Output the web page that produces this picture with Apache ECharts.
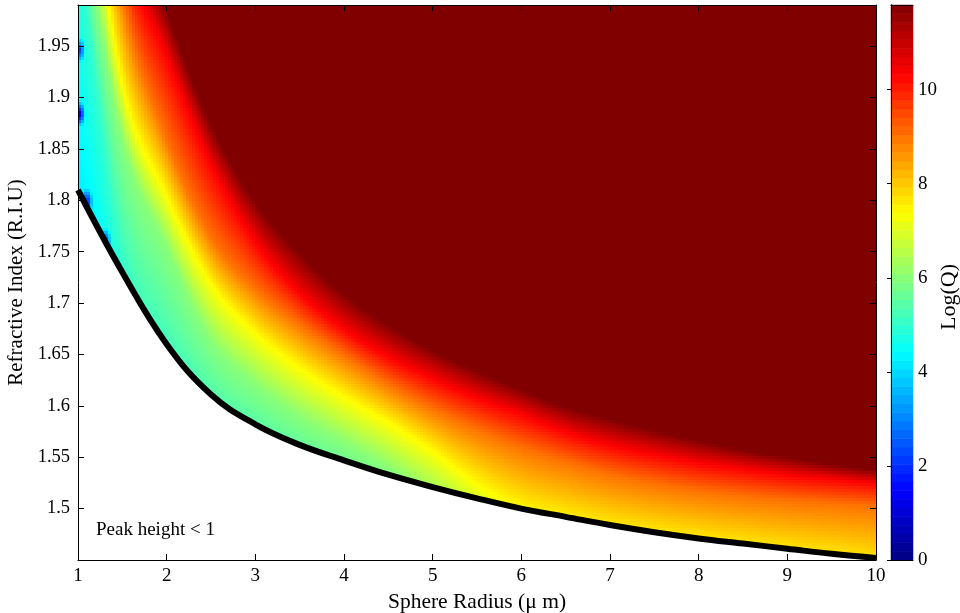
<!DOCTYPE html>
<html>
<head>
<meta charset="utf-8">
<script src="https://cdn.jsdelivr.net/npm/echarts@6/dist/echarts.min.js"></script>
<style>
  html, body { margin: 0; padding: 0; background: #fff; }
  #chart { width: 960px; height: 613px; }
</style>
</head>
<body>
<div id="chart"></div>
<script>
const radius = [1, 1.5, 2, 2.5, 3, 3.5, 4, 4.5, 5, 5.5, 6, 6.5, 7, 7.5, 8, 8.5, 9, 9.5, 10];
// black cut-off line (peak height < 1 below it)
const cutoffIndex = [1.810, 1.730, 1.660, 1.611, 1.582, 1.562, 1.547, 1.533, 1.521, 1.510, 1.500, 1.492, 1.484, 1.477, 1.471, 1.466, 1.461, 1.456, 1.452];
// refractive index where Log(Q) reaches each contour level, per radius column
// (levels that lie under the cut-off line only set the value along the line)
const levelValues = [4, 5, 6, 7.4, 9, 10.3, 11.8];
const level4 = [1.74, 1.60, 1.50, 1.45, 1.42, 1.40, 1.38, 1.36, 1.34, 1.32, 1.30, 1.28, 1.27, 1.26, 1.25, 1.24, 1.23, 1.22, 1.21];
const level5 = [2.05, 1.74, 1.64, 1.585, 1.553, 1.528, 1.505, 1.48, 1.46, 1.44, 1.42, 1.40, 1.39, 1.38, 1.37, 1.36, 1.35, 1.34, 1.33];
const level6 = [2.10, 1.86, 1.755, 1.665, 1.622, 1.59, 1.565, 1.54, 1.51, 1.48, 1.455, 1.435, 1.42, 1.41, 1.40, 1.39, 1.38, 1.37, 1.36];
const level74 = [2.20, 1.915, 1.805, 1.72, 1.672, 1.638, 1.61, 1.585, 1.557, 1.525, 1.500, 1.488, 1.478, 1.471, 1.465, 1.459, 1.453, 1.447, 1.441];
const level9 = [2.30, 2.00, 1.86, 1.765, 1.715, 1.68, 1.65, 1.622, 1.598, 1.578, 1.56, 1.546, 1.534, 1.525, 1.518, 1.513, 1.509, 1.506, 1.503];
const level103 = [2.38, 2.06, 1.94, 1.835, 1.76, 1.71, 1.675, 1.648, 1.627, 1.608, 1.592, 1.575, 1.562, 1.553, 1.545, 1.539, 1.533, 1.529, 1.525];
const level118 = [2.45, 2.11, 1.985, 1.875, 1.80, 1.75, 1.71, 1.68, 1.655, 1.635, 1.617, 1.60, 1.588, 1.577, 1.567, 1.558, 1.551, 1.544, 1.538];
// low-Q blue spots along the left edge: [radius, index, logQ]
const blueSpots = [[1.02, 1.947, 2.0], [1.02, 1.885, 1.0], [1.1, 1.80, 1.5], [1.31, 1.762, 2.0]];

const xTicks = [1, 2, 3, 4, 5, 6, 7, 8, 9, 10];
const yTicks = [1.5, 1.55, 1.6, 1.65, 1.7, 1.75, 1.8, 1.85, 1.9, 1.95];
const cbTicks = [0, 2, 4, 6, 8, 10];

const xMin = 1, xMax = 10, yMin = 1.45, yMax = 1.99, qMax = 11.8;
const levels = [level4, level5, level6, level74, level9, level103, level118];
const jet = ["#000080", "#0000ff", "#0080ff", "#00ffff", "#80ff80", "#ffff00", "#ff8000", "#ff0000", "#800000"];
const FONT = "Liberation Serif, DejaVu Serif, serif";

/** smooth (catmull-rom) value of a per-column array between the read columns */
function colValue(arr, k, t) {
    const p1 = arr[k], p2 = arr[k + 1];
    const p0 = k > 0 ? arr[k - 1] : 2 * p1 - p2;
    const p3 = k + 2 < arr.length ? arr[k + 2] : 2 * p2 - p1;
    return 0.5 * (2 * p1 + (-p0 + p2) * t + (2 * p0 - 5 * p1 + 4 * p2 - p3) * t * t
        + (-p0 + 3 * p1 - 3 * p2 + p3) * t * t * t);
}

/** Log(Q) at (x, n) from the contour levels */
function logQ(x, n) {
    let k = 0;
    while (k < radius.length - 2 && x > radius[k + 1]) k++;
    const t = (x - radius[k]) / (radius[k + 1] - radius[k]);
    if (n < colValue(cutoffIndex, k, t)) return null;
    let prev = -Infinity;
    const pos = levels.map((arr) => (prev = Math.max(prev + 1e-4, colValue(arr, k, t))));
    let v;
    if (n <= pos[0]) v = levelValues[0];
    else if (n >= pos[pos.length - 1]) v = qMax;
    else {
        for (let i = 0; i < pos.length - 1; i++) {
            if (n <= pos[i + 1]) {
                const f = (n - pos[i]) / (pos[i + 1] - pos[i]);
                v = levelValues[i] + (levelValues[i + 1] - levelValues[i]) * f;
                break;
            }
        }
    }
    blueSpots.forEach(([sx, sn, sv]) => {
        const d = Math.sqrt(Math.pow((x - sx) / 0.07, 2) + Math.pow((n - sn) / 0.013, 2));
        if (d < 1) v = Math.min(v, sv + (v - sv) * d);
    });
    return Math.min(v, qMax);
}

// field cells, 3 px each
const nx = 266, ny = 185;
const dx = (xMax - xMin) / nx, dy = (yMax - yMin) / ny;
const cells = [];
for (let i = 0; i < nx; i++) {
    const x = xMin + (i + 0.5) * dx;
    for (let j = 0; j < ny; j++) {
        const n = yMin + (j + 0.5) * dy;
        const v = logQ(x, n);
        if (v !== null) cells.push([x, n, v]);
    }
}

// colour bar, 64 steps as in the matlab colormap
const cbCats = [], cbCells = [];
for (let k = 0; k < 64; k++) {
    cbCats.push(k);
    cbCells.push([0, k, (k + 0.5) * qMax / 64]);
}

const cutoffLine = radius.map((r, i) => [r, cutoffIndex[i]]);

function onTick(list, v) {
    return list.some((t) => Math.abs(t - v) < 1e-6);
}

function renderCell(params, api) {
    const x = api.value(0), n = api.value(1);
    const a = api.coord([x - dx / 2, n + dy / 2]);
    const b = api.coord([x + dx / 2, n - dy / 2]);
    const x0 = Math.floor(a[0] + 0.01), y0 = Math.floor(a[1] + 0.01);
    return {
        type: "rect",
        shape: { x: x0, y: y0, width: Math.ceil(b[0] - 0.01) - x0 + 1, height: Math.ceil(b[1] - 0.01) - y0 + 1 },
        style: { fill: api.visual("color") },
    };
}

const hiddenCat = {
    type: "category", show: false, boundaryGap: true,
};
const boxAxis = {
    z: 10,
    axisLine: { show: true, lineStyle: { color: "#000", width: 1 } },
    axisTick: { show: true, inside: true, length: 6, lineStyle: { color: "#000" } },
    splitLine: { show: false },
};

const chart = echarts.init(document.getElementById("chart"), null, { renderer: "canvas" });
chart.setOption({
    animation: false,
    backgroundColor: "#fff",
    grid: [
        { left: 78, top: 5, width: 798, height: 555, outerBoundsMode: "none", containLabel: false },
        { left: 891, top: 5, width: 22, height: 555, outerBoundsMode: "none", containLabel: false },
    ],
    visualMap: {
        type: "continuous",
        show: false,
        min: 0,
        max: qMax,
        dimension: 2,
        seriesIndex: [0, 2],
        inRange: { color: jet },
    },
    xAxis: [
        Object.assign({}, boxAxis, {
            gridIndex: 0, type: "value", position: "bottom", min: xMin, max: xMax, interval: 1,
            name: "Sphere Radius (\u03bc m)", nameLocation: "middle", nameGap: 23,
            nameTextStyle: { fontFamily: FONT, fontSize: 21.5, color: "#000" },
            axisLabel: {
                fontFamily: FONT, fontSize: 19, color: "#000", margin: 7,
                formatter: (v) => (onTick(xTicks, v) ? String(v) : ""),
            },
        }),
        Object.assign({}, boxAxis, {
            gridIndex: 0, type: "value", position: "top", min: xMin, max: xMax, interval: 1,
            axisLabel: { show: false },
        }),
        Object.assign({}, hiddenCat, { gridIndex: 1, data: ["c"] }),
        Object.assign({}, boxAxis, {
            gridIndex: 1, type: "value", position: "bottom", min: 0, max: 1,
            axisTick: { show: false }, axisLabel: { show: false },
        }),
        Object.assign({}, boxAxis, {
            gridIndex: 1, type: "value", position: "top", min: 0, max: 1,
            axisTick: { show: false }, axisLabel: { show: false },
        }),
    ],
    yAxis: [
        Object.assign({}, boxAxis, {
            gridIndex: 0, type: "value", position: "left", min: yMin, max: yMax, interval: 0.05,
            name: "Refractive Index (R.I.U)", nameLocation: "middle", nameGap: 46, nameRotate: 90,
            nameTextStyle: { fontFamily: FONT, fontSize: 21, color: "#000" },
            axisLabel: {
                fontFamily: FONT, fontSize: 18.5, color: "#000", margin: 8,
                showMinLabel: false, showMaxLabel: false,
                formatter: (v) => (onTick(yTicks, v) ? String(+v.toFixed(2)) : ""),
            },
        }),
        Object.assign({}, boxAxis, {
            gridIndex: 0, type: "value", position: "right", min: yMin, max: yMax, interval: 0.05,
            axisLabel: { show: false },
        }),
        Object.assign({}, hiddenCat, { gridIndex: 1, data: cbCats }),
        Object.assign({}, boxAxis, {
            gridIndex: 1, type: "value", position: "right", min: 0, max: qMax, interval: 2,
            axisTick: { show: true, inside: true, length: 4, lineStyle: { color: "#000" } },
            axisLabel: {
                fontFamily: FONT, fontSize: 19, color: "#000", margin: 5,
                showMaxLabel: false,
                formatter: (v) => (onTick(cbTicks, v) ? String(v) : ""),
            },
        }),
        Object.assign({}, boxAxis, {
            gridIndex: 1, type: "value", position: "left", min: 0, max: 1,
            axisTick: { show: false }, axisLabel: { show: false },
        }),
    ],
    graphic: [
        {
            type: "text", left: 96, top: 521, z: 20,
            style: { text: "Peak height < 1", fontFamily: FONT, fontSize: 19, fill: "#000" },
        },
        {
            type: "text", x: 949, y: 297, rotation: Math.PI / 2, z: 20,
            style: {
                text: "Log(Q)", fontFamily: FONT, fontSize: 22, fill: "#000",
                align: "center", verticalAlign: "middle",
            },
        },
    ],
    series: [
        {
            type: "custom",
            xAxisIndex: 0,
            yAxisIndex: 0,
            data: cells,
            encode: { x: 0, y: 1 },
            renderItem: renderCell,
            clip: true,
            progressive: 0,
            silent: true,
            z: 2,
        },
        {
            type: "line",
            xAxisIndex: 0,
            yAxisIndex: 0,
            data: cutoffLine,
            smooth: 0.4,
            symbol: "none",
            silent: true,
            lineStyle: { color: "#000", width: 6 },
            z: 5,
        },
        {
            type: "heatmap",
            xAxisIndex: 2,
            yAxisIndex: 2,
            data: cbCells,
            progressive: 0,
            silent: true,
            z: 2,
        },
    ],
});
</script>
</body>
</html>
